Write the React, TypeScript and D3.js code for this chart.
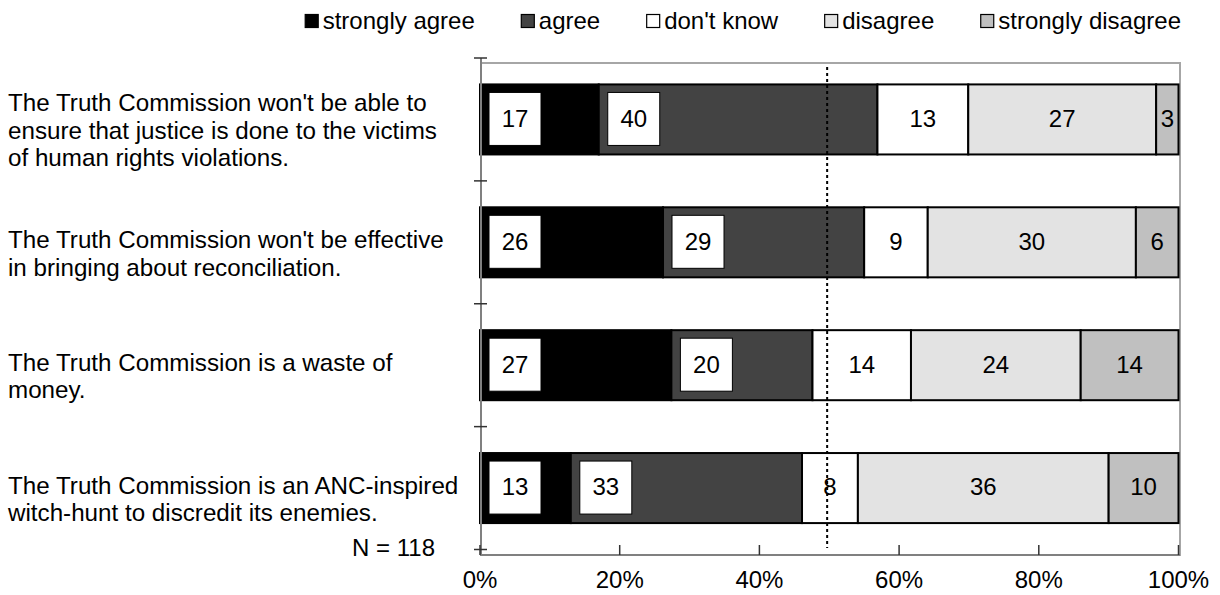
import React from "react";
import * as d3 from "d3";

const categoryLines: string[][] = [
  ["The Truth Commission won't be able to", "ensure that justice is done to the victims", "of human rights violations."],
  ["The Truth Commission won't be effective", "in bringing about reconciliation."],
  ["The Truth Commission is a waste of", "money."],
  ["The Truth Commission is an ANC-inspired", "witch-hunt to discredit its enemies."],
];
const seriesNames = ["strongly agree", "agree", "don't know", "disagree", "strongly disagree"];
const stronglyAgree = [17.0, 26.2, 27.4, 13.0];
const agree = [39.9, 28.8, 20.2, 33.1];
const dontKnow = [13.0, 9.1, 14.1, 8.0];
const disagree = [26.9, 29.8, 24.3, 35.9];
const stronglyDisagree = [3.2, 6.1, 14.0, 10.0];
const xTicks = [0, 20, 40, 60, 80, 100];
const referenceLine = 49.7;
const sampleNote = "N = 118";

const colors = ["#000000", "#434343", "#ffffff", "#e3e3e3", "#c0c0c0"];
const boxed = [true, true, false, false, false];
const FONT = "'Liberation Sans', Arial, sans-serif";
const FS = 24;
const FS_CAT = 24.2;

export default function App() {
  const W = 1220, H = 595;
  const x0 = 480, x1 = 1178.5;
  const plotTop = 63, axisY = 555;
  const ids = categoryLines.map((_, i) => String(i));
  const rows = ids.map((id, i) => ({
    id,
    s0: stronglyAgree[i], s1: agree[i], s2: dontKnow[i], s3: disagree[i], s4: stronglyDisagree[i],
  }));
  const keys = ["s0", "s1", "s2", "s3", "s4"];
  const stacked = d3.stack<any>().keys(keys)(rows);
  const x = d3.scaleLinear().domain([0, 100]).range([x0, x1]);
  const y = d3.scaleBand().domain(ids).range([58, 549.5]).paddingInner(0.43).paddingOuter(0.215);
  const step = y.step();
  const bw = y.bandwidth();
  const catTicks = d3.range(ids.length + 1).map((i) => 58 + i * step);

  // legend layout
  const sq = 14;
  const sqGap = 4;
  const legendGap = 46;
  const legendRight = 1181;
  const ctx = typeof document !== "undefined" ? document.createElement("canvas").getContext("2d") : null;
  if (ctx) ctx.font = `${FS}px ${FONT}`;
  const measure = (s: string) => (ctx ? ctx.measureText(s).width : s.length * FS * 0.5);
  const widths = seriesNames.map((s) => sq + sqGap + measure(s));
  const total = d3.sum(widths) + legendGap * (widths.length - 1);
  let lx = legendRight - total;
  const legendItems = seriesNames.map((s, i) => {
    const item = { name: s, x: lx, color: colors[i] };
    lx += widths[i] + legendGap;
    return item;
  });
  const legendY = 21;

  return (
    <svg width={W} height={H} style={{ position: "absolute", left: 0, top: 0, background: "#fff" }} fontFamily={FONT}>
      {/* legend */}
      {legendItems.map((it) => (
        <g key={it.name}>
          <rect x={it.x + 0.5} y={legendY - sq / 2 + 0.5} width={sq - 1} height={sq - 1} fill={it.color} stroke="#000" strokeWidth={1.2} />
          <text x={it.x + sq + sqGap} y={legendY} dy="0.35em" fontSize={FS} fill="#000">{it.name}</text>
        </g>
      ))}
      {/* plot frame */}
      <rect x={x0 + 1} y={plotTop} width={1180 - x0 - 1} height={axisY - plotTop} fill="none" stroke="#a6a6a6" strokeWidth={2} />
      {/* bars */}
      {stacked.map((layer, li) => (
        <g key={li}>
          {layer.map((d: any, ci: number) => {
            const xa = x(d[0]), xb = x(d[1]);
            const yy = y(ids[ci])!;
            return (
              <rect key={ci} x={xa} y={yy} width={xb - xa} height={bw} fill={colors[li]} stroke="#000" strokeWidth={2} />
            );
          })}
        </g>
      ))}
      {/* reference dotted line */}
      <line x1={x(referenceLine)} x2={x(referenceLine)} y1={plotTop + 4} y2={axisY - 7} stroke="#000" strokeWidth={2} strokeDasharray="3,3" />
      {/* value labels */}
      {stacked.map((layer, li) => (
        <g key={"l" + li}>
          {layer.map((d: any, ci: number) => {
            const xa = x(d[0]), xb = x(d[1]);
            const cy = y(ids[ci])! + bw / 2;
            const v = Math.round(d[1] - d[0]);
            if (boxed[li]) {
              const bx = xa + 9;
              const boxW = 52, boxH = 53;
              return (
                <g key={ci}>
                  <rect x={bx} y={cy - 27} width={boxW} height={boxH} fill="#fff" stroke="#000" strokeWidth={1} />
                  <text x={bx + boxW / 2} y={cy - 1} dy="0.35em" textAnchor="middle" fontSize={FS} fill="#000">{v}</text>
                </g>
              );
            }
            return (
              <text key={ci} x={(xa + xb) / 2} y={cy - 1} dy="0.35em" textAnchor="middle" fontSize={FS} fill="#000">{v}</text>
            );
          })}
        </g>
      ))}
      {/* left axis */}
      <line x1={x0 + 1} x2={x0 + 1} y1={catTicks[0]} y2={axisY} stroke="#808080" strokeWidth={2} />
      {catTicks.map((t, i) => (
        <line key={i} x1={x0 - 6} x2={x0 + 7} y1={t} y2={t} stroke="#333" strokeWidth={1.5} />
      ))}
      {/* x axis */}
      <line x1={x0} x2={1180} y1={axisY} y2={axisY} stroke="#808080" strokeWidth={2} />
      {xTicks.map((t) => (
        <g key={t}>
          <line x1={x(t)} x2={x(t)} y1={axisY - 10} y2={axisY} stroke="#333" strokeWidth={1.5} />
          <text x={x(t)} y={580} dy="0.35em" textAnchor="middle" fontSize={FS} fill="#000">{t}%</text>
        </g>
      ))}
      {/* category labels */}
      {categoryLines.map((lines, i) => {
        const cy = y(ids[i])! + bw / 2 + 11;
        const lh = 27.5;
        const start = cy - ((lines.length - 1) * lh) / 2;
        return (
          <text key={i} fontSize={FS_CAT} fill="#000">
            {lines.map((ln, k) => (
              <tspan key={k} x={8} y={start + k * lh} dy="0.35em">{ln}</tspan>
            ))}
          </text>
        );
      })}
      <text x={435} y={548} dy="0.35em" textAnchor="end" fontSize={FS} fill="#000">{sampleNote}</text>
    </svg>
  );
}
